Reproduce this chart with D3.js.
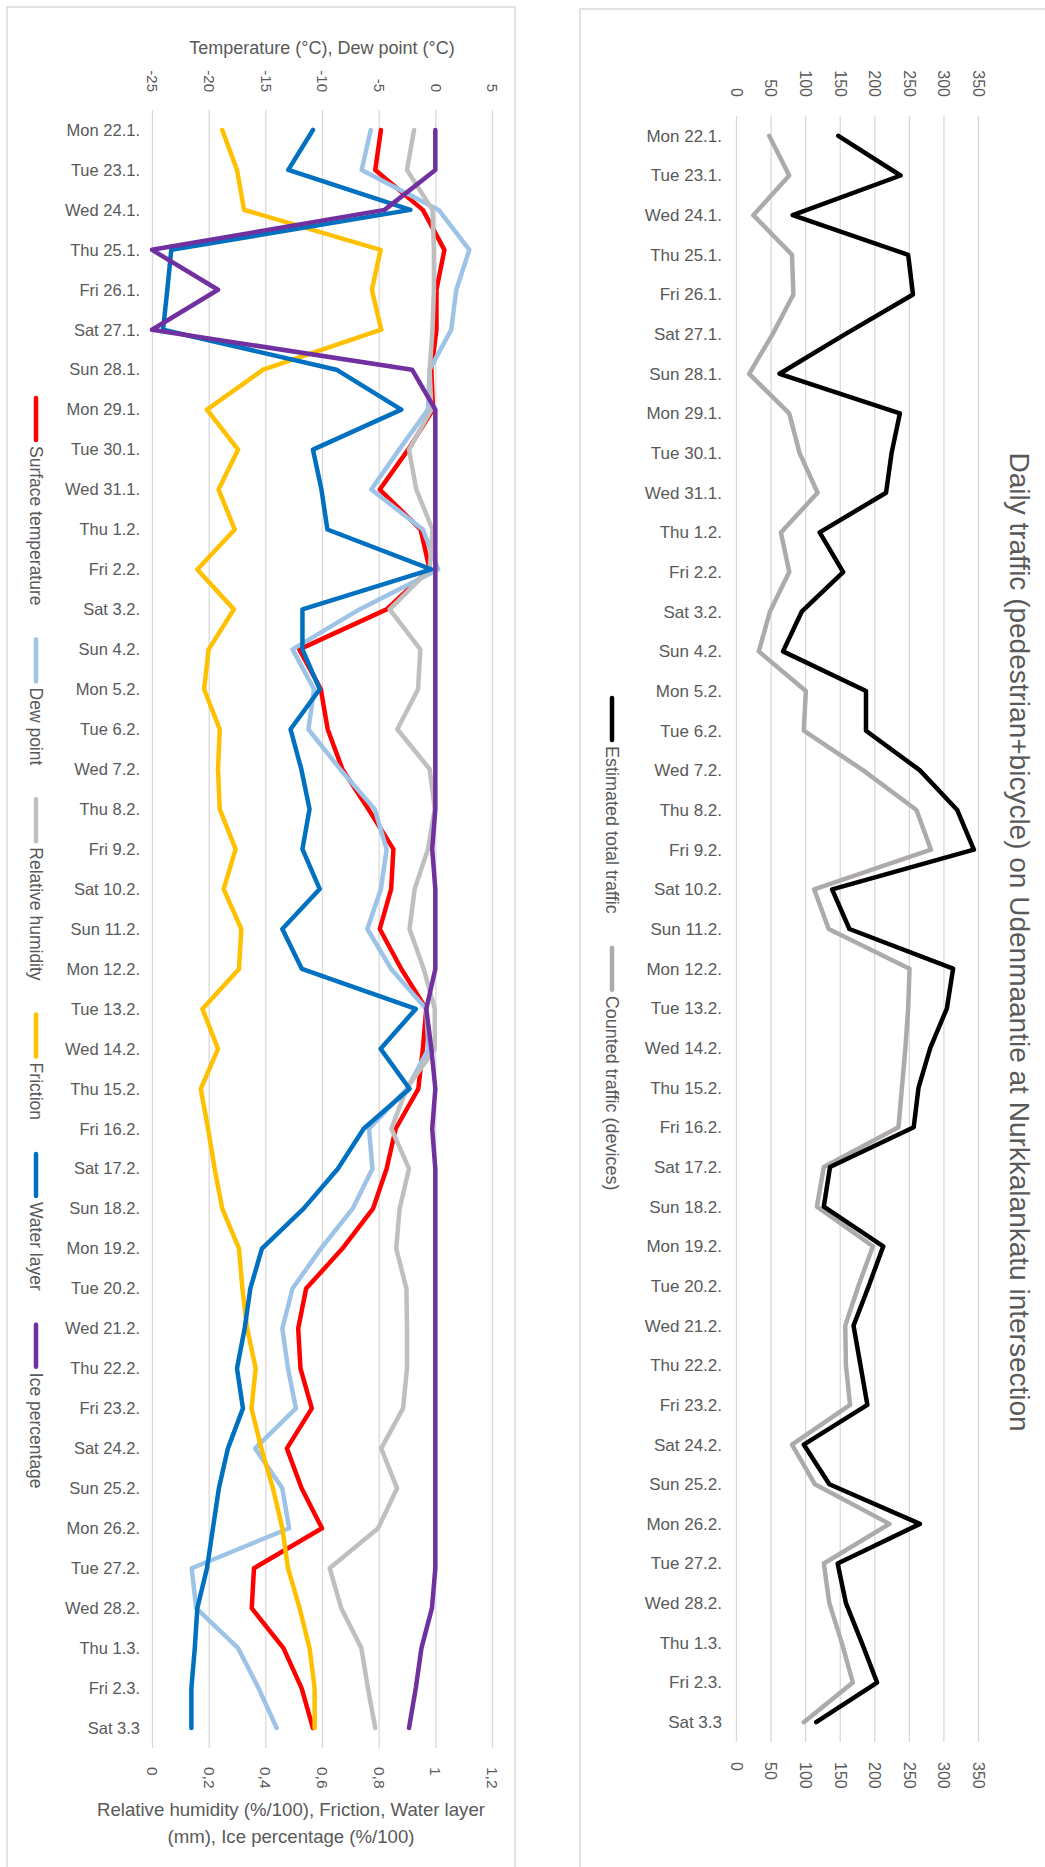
<!DOCTYPE html>
<html>
<head>
<meta charset="utf-8">
<script src="https://cdn.jsdelivr.net/npm/d3@7"></script>
<style>
  body { margin: 0; background: #fff; }
  svg { display: block; font-family: "Liberation Sans", Arial, sans-serif; }
</style>
</head>
<body>
<svg id="chart" width="1045" height="1867"></svg>
<script>
// --- data -------------------------------------------------------------
const dates = [
  'Mon 22.1.', 'Tue 23.1.', 'Wed 24.1.', 'Thu 25.1.', 'Fri 26.1.', 'Sat 27.1.', 'Sun 28.1.',
  'Mon 29.1.', 'Tue 30.1.', 'Wed 31.1.', 'Thu 1.2.', 'Fri 2.2.', 'Sat 3.2.', 'Sun 4.2.',
  'Mon 5.2.', 'Tue 6.2.', 'Wed 7.2.', 'Thu 8.2.', 'Fri 9.2.', 'Sat 10.2.', 'Sun 11.2.',
  'Mon 12.2.', 'Tue 13.2.', 'Wed 14.2.', 'Thu 15.2.', 'Fri 16.2.', 'Sat 17.2.', 'Sun 18.2.',
  'Mon 19.2.', 'Tue 20.2.', 'Wed 21.2.', 'Thu 22.2.', 'Fri 23.2.', 'Sat 24.2.', 'Sun 25.2.',
  'Mon 26.2.', 'Tue 27.2.', 'Wed 28.2.', 'Thu 1.3.', 'Fri 2.3.', 'Sat 3.3'
];

// °C
const surfaceTemp = [-4.8, -5.3, -1.1, 0.8, 0.1, 0.1, -0.35, -0.2, -2.4, -4.9, -1.3, -0.5, -4.3, -12.0,
  -10.1, -9.5, -8.2, -5.9, -3.7, -3.9, -4.9, -3.0, -0.8, -1.1, -1.5, -3.5, -4.3, -5.5, -8.2,
  -11.4, -12.1, -11.9, -10.9, -13.1, -11.8, -10.0, -16.0, -16.2, -13.4, -11.8, -10.8];
const dewPoint = [-5.7, -6.5, 0.3, 3.0, 1.85, 1.4, -0.5, -0.65, -3.2, -5.65, -1.1, 0.25, -6.7, -12.6,
  -10.7, -11.2, -8.4, -5.35, -4.3, -4.8, -6.0, -3.9, -0.8, -0.6, -2.5, -5.85, -5.55, -7.3, -10.1,
  -12.6, -13.5, -13.0, -12.3, -15.9, -13.5, -12.9, -21.5, -21.1, -17.4, -15.6, -14.0];

// %/100, friction, mm
const relHumidity = [0.925, 0.90, 0.99, 0.995, 0.995, 0.99, 0.98, 0.986, 0.907, 0.933, 0.99, 0.98,
  0.839, 0.947, 0.939, 0.866, 0.98, 0.998, 0.974, 0.927, 0.909, 0.959, 0.998, 0.998, 0.898, 0.845,
  0.907, 0.874, 0.862, 0.898, 0.90, 0.90, 0.886, 0.809, 0.865, 0.798, 0.627, 0.668, 0.739, 0.762, 0.788];
const friction = [0.248, 0.30, 0.325, 0.807, 0.776, 0.809, 0.392, 0.194, 0.304, 0.235, 0.292, 0.16,
  0.289, 0.20, 0.184, 0.239, 0.233, 0.239, 0.295, 0.253, 0.315, 0.307, 0.178, 0.233, 0.172, 0.198,
  0.221, 0.248, 0.307, 0.319, 0.336, 0.366, 0.351, 0.386, 0.427, 0.46, 0.48, 0.521, 0.556, 0.574, 0.574];
const waterLayer = [0.568, 0.481, 0.912, 0.068, 0.054, 0.039, 0.651, 0.88, 0.568, 0.598, 0.619, 0.986,
  0.531, 0.531, 0.592, 0.489, 0.527, 0.556, 0.531, 0.592, 0.46, 0.529, 0.931, 0.807, 0.909, 0.747,
  0.656, 0.535, 0.388, 0.347, 0.327, 0.30, 0.321, 0.268, 0.236, 0.215, 0.194, 0.16, 0.151, 0.139, 0.139];
const icePct = [1.0, 1.0, 0.821, 0.0, 0.233, 0.0, 0.918, 1.0, 1.0, 1.0, 1.0, 1.0, 1.0, 1.0, 1.0, 1.0,
  1.0, 1.0, 0.989, 1.0, 1.0, 1.0, 0.968, 0.986, 1.0, 0.989, 1.0, 1.0, 1.0, 1.0, 1.0, 1.0, 1.0, 1.0,
  1.0, 1.0, 1.0, 0.988, 0.951, 0.931, 0.907];

// pedestrians + bicycles per day
const estimatedTraffic = [148, 238, 82, 249, 256, 158, 63, 237, 225, 217, 121, 155, 95, 68, 188, 188,
  266, 320, 344, 139, 164, 314, 305, 281, 264, 257, 136, 127, 213, 192, 170, 180, 190, 98, 135, 266,
  147, 159, 182, 204, 116];
const countedTraffic = [48, 77, 25, 81, 83, 53, 19, 77, 92, 118, 65, 77, 49, 33, 101, 98, 184, 261,
  282, 113, 134, 251, 249, 245, 240, 235, 127, 117, 198, 177, 158, 159, 165, 81, 114, 222, 127, 135,
  153, 169, 98];

const tempTicks = [-25, -20, -15, -10, -5, 0, 5];
const ratioTicks = [0, 0.2, 0.4, 0.6, 0.8, 1, 1.2];
const trafficTicks = [0, 50, 100, 150, 200, 250, 300, 350];

// --- setup ------------------------------------------------------------
const textGrey = '#595959';
const gridGrey = '#d9d9d9';
const svg = d3.select('#chart');

// chart frames (they run past the bottom of the picture)
svg.append('rect').attr('x', 7).attr('y', 7).attr('width', 508).attr('height', 1900)
  .attr('fill', 'none').attr('stroke', gridGrey).attr('stroke-width', 1.5);
svg.append('rect').attr('x', 580).attr('y', 9).attr('width', 500).attr('height', 1900)
  .attr('fill', 'none').attr('stroke', gridGrey).attr('stroke-width', 1.5);

// helpers
function grid(g, scale, ticks, top, bottom) {
  g.append('g')
    .attr('transform', `translate(0,${bottom})`)
    .call(d3.axisBottom(scale).tickValues(ticks).tickSize(-(bottom - top)).tickFormat(''))
    .call(a => a.select('.domain').remove())
    .call(a => a.selectAll('line').attr('stroke', gridGrey).attr('stroke-width', 1.3));
}

function valueAxis(g, axis, y, pad, fmt, size) {
  const anchor = axis === d3.axisTop ? 'end' : 'start';
  const sign = axis === d3.axisTop ? -1 : 1;
  return function(scale, ticks) {
    g.append('g')
      .attr('transform', `translate(0,${y})`)
      .call(axis(scale).tickValues(ticks).tickSize(0).tickFormat(fmt))
      .call(a => a.select('.domain').remove())
      .call(a => a.selectAll('text')
        .attr('transform', 'rotate(90)')
        .attr('x', sign * pad).attr('y', 0).attr('dy', '0.35em')
        .style('text-anchor', anchor)
        .attr('fill', textGrey).style('font-size', size + 'px').style('font-family', null));
  };
}

function dateAxis(g, scale, x, pad, size) {
  g.append('g')
    .attr('transform', `translate(${x},0)`)
    .call(d3.axisLeft(scale).tickSize(0).tickPadding(pad))
    .call(a => a.select('.domain').remove())
    .call(a => a.selectAll('text').attr('fill', textGrey)
      .style('font-size', size + 'px').style('font-family', null));
}

function legend(g, items, x, yStart, size) {
  let y = yStart;
  items.forEach(it => {
    g.append('line')
      .attr('x1', x).attr('x2', x).attr('y1', y).attr('y2', y + 42)
      .attr('stroke', it.color).attr('stroke-width', 4.5).attr('stroke-linecap', 'round');
    const t = g.append('text')
      .attr('transform', `translate(${x},${y + 48}) rotate(90)`)
      .attr('dy', '0.35em')
      .attr('fill', textGrey).style('font-size', size + 'px')
      .text(it.name);
    y += 48 + t.node().getComputedTextLength() + 34;
  });
}

function drawLines(g, series, yScale) {
  series.forEach(s => {
    const line = d3.line()
      .x(d => s.scale(d))
      .y((d, i) => yScale(dates[i]));
    g.append('path')
      .datum(s.values)
      .attr('d', line)
      .attr('fill', 'none')
      .attr('stroke', s.color)
      .attr('stroke-width', 4.5)
      .attr('stroke-linejoin', 'round')
      .attr('stroke-linecap', 'round');
  });
}

// --- left chart: weather ---------------------------------------------
const L = { left: 152, right: 492, top: 110, bottom: 1748 };
const xTemp = d3.scaleLinear().domain([-25, 5]).range([L.left, L.right]);
const xRatio = d3.scaleLinear().domain([0, 1.2]).range([L.left, L.right]);
const yLeft = d3.scalePoint().domain(dates).range([L.top, L.bottom]).padding(0.5);

const gL = svg.append('g');
grid(gL, xRatio, ratioTicks, L.top, L.bottom);
valueAxis(gL, d3.axisTop, L.top, 18, d => d, 15)(xTemp, tempTicks);
valueAxis(gL, d3.axisBottom, L.bottom, 19, d => String(d).replace('.', ','), 15.5)(xRatio, ratioTicks);
dateAxis(gL, yLeft, L.left, 12, 16.5);

gL.append('text')
  .attr('x', (L.left + L.right) / 2).attr('y', 54)
  .attr('text-anchor', 'middle').attr('fill', textGrey).style('font-size', '18px')
  .text('Temperature (°C), Dew point (°C)');
gL.append('text')
  .attr('x', 291).attr('y', 1816)
  .attr('text-anchor', 'middle').attr('fill', textGrey).style('font-size', '18.6px')
  .text('Relative humidity (%/100), Friction, Water layer');
gL.append('text')
  .attr('x', 291).attr('y', 1843)
  .attr('text-anchor', 'middle').attr('fill', textGrey).style('font-size', '18.6px')
  .text('(mm), Ice percentage (%/100)');

const leftSeries = [
  { name: 'Surface temperature', values: surfaceTemp, color: '#ff0000', scale: xTemp },
  { name: 'Dew point', values: dewPoint, color: '#9dc3e6', scale: xTemp },
  { name: 'Relative humidity', values: relHumidity, color: '#bfbfbf', scale: xRatio },
  { name: 'Friction', values: friction, color: '#ffc000', scale: xRatio },
  { name: 'Water layer', values: waterLayer, color: '#0070c0', scale: xRatio },
  { name: 'Ice percentage', values: icePct, color: '#7030a0', scale: xRatio }
];
drawLines(gL, leftSeries, yLeft);
legend(gL, leftSeries, 36, 398, 17.5);

// --- right chart: traffic --------------------------------------------
const R = { left: 736, right: 978, top: 116, bottom: 1742 };
const xTraffic = d3.scaleLinear().domain([0, 350]).range([R.left, R.right]);
const yRight = d3.scalePoint().domain(dates).range([R.top, R.bottom]).padding(0.5);

const gR = svg.append('g');
grid(gR, xTraffic, trafficTicks, R.top, R.bottom);
valueAxis(gR, d3.axisTop, R.top, 19, d => d, 16)(xTraffic, trafficTicks);
valueAxis(gR, d3.axisBottom, R.bottom, 20, d => d, 16)(xTraffic, trafficTicks);
dateAxis(gR, yRight, R.left, 14, 17);

const rightSeries = [
  { name: 'Estimated total traffic', values: estimatedTraffic, color: '#000000', scale: xTraffic },
  { name: 'Counted traffic (devices)', values: countedTraffic, color: '#aeaaaa', scale: xTraffic }
];
drawLines(gR, rightSeries.slice().reverse(), yRight);
legend(gR, rightSeries, 612, 698, 18);

gR.append('text')
  .attr('transform', `translate(1020,942) rotate(90)`)
  .attr('dy', '0.35em')
  .attr('text-anchor', 'middle').attr('fill', textGrey).style('font-size', '28px')
  .text('Daily traffic (pedestrian+bicycle) on Udenmaantie at Nurkkalankatu intersection');
</script>
</body>
</html>
